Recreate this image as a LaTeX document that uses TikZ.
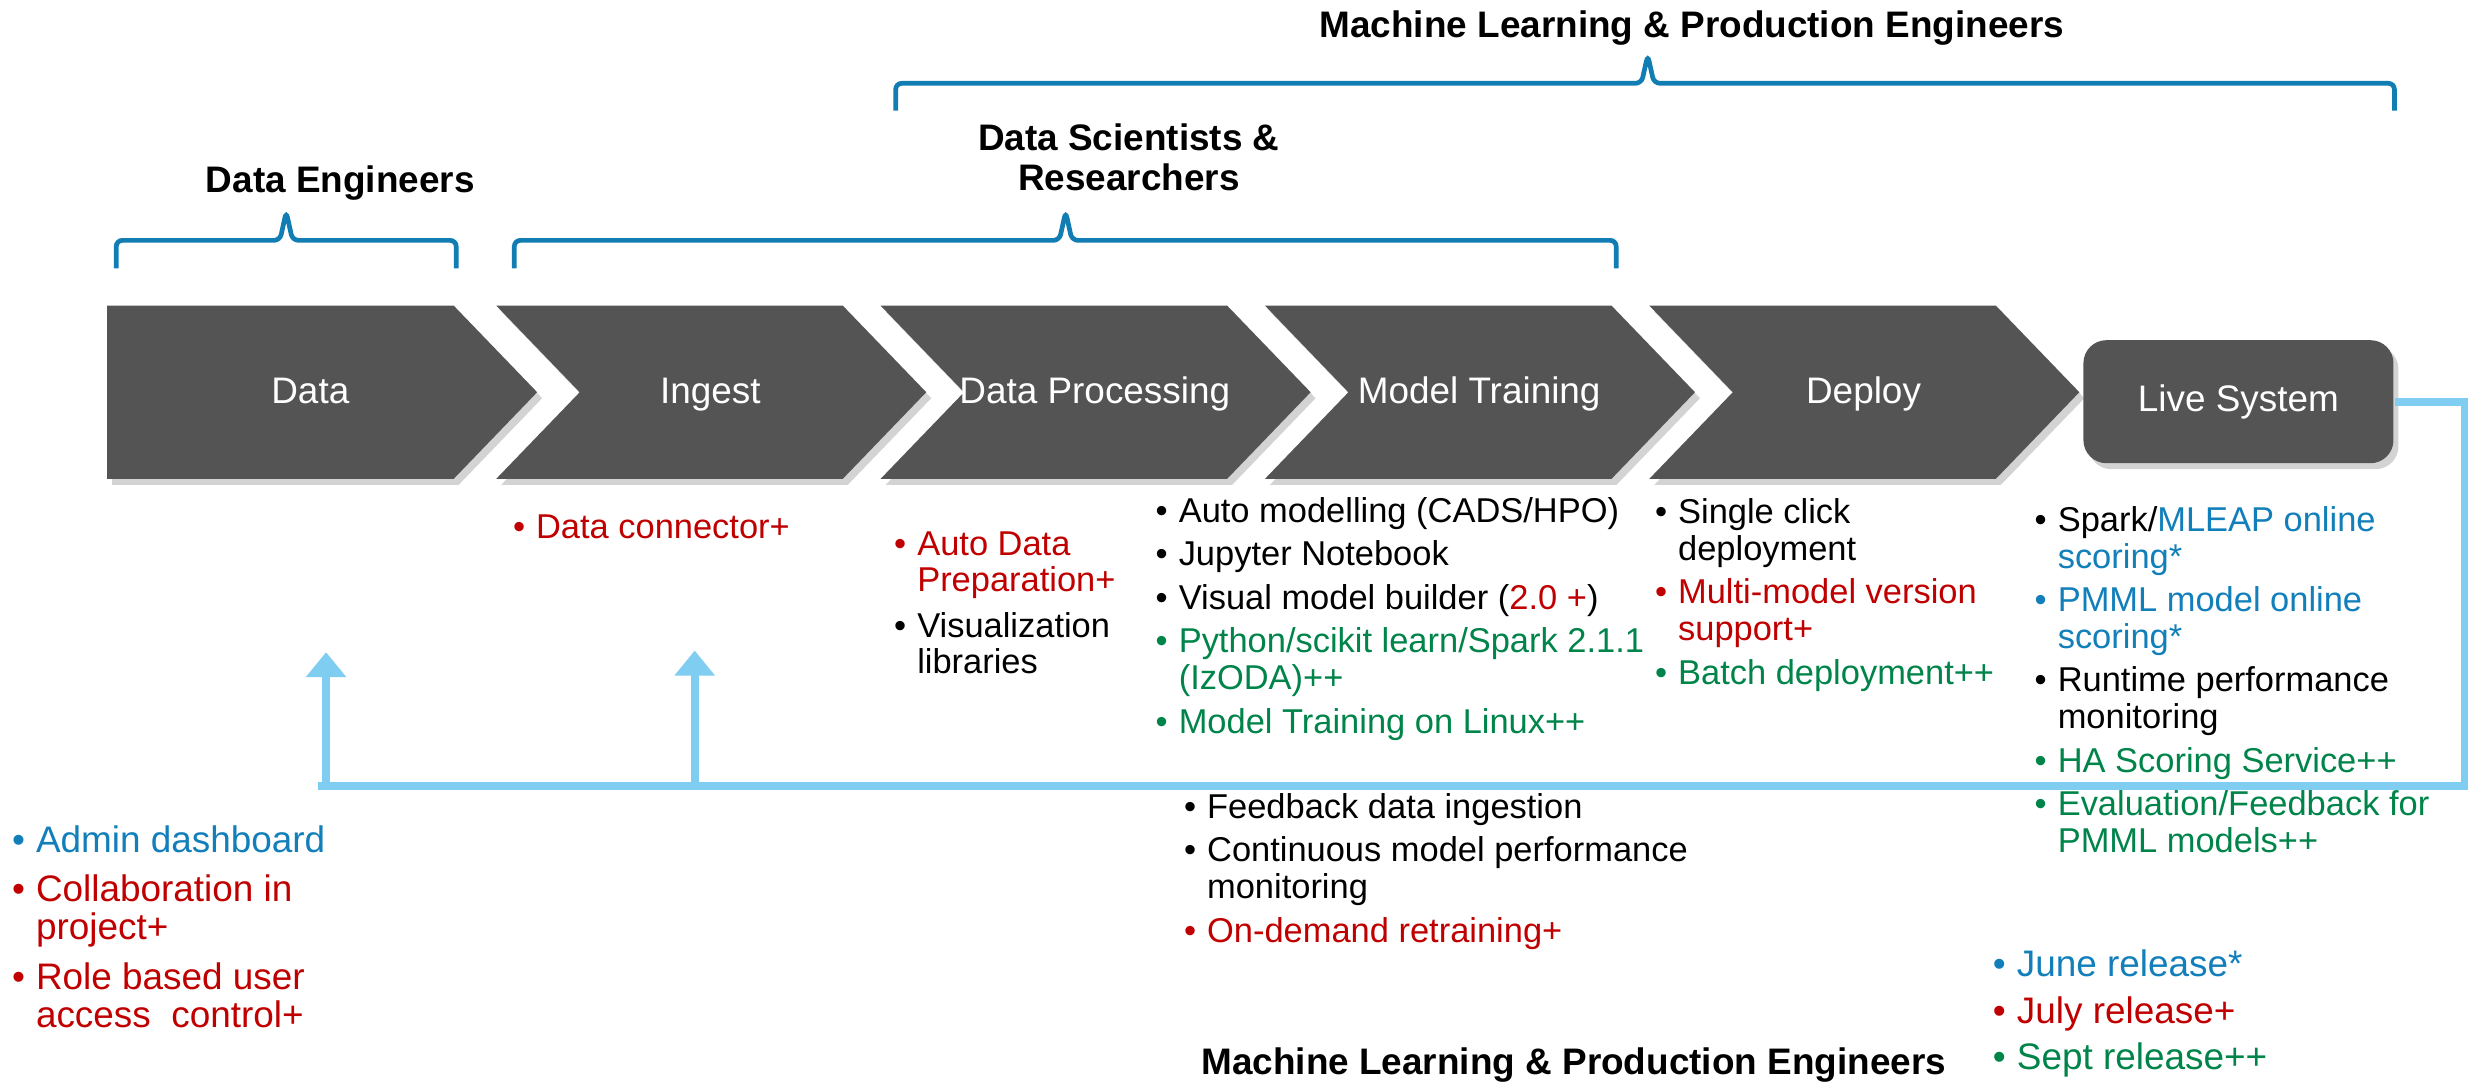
\documentclass[tikz,border=0pt]{standalone}
\usepackage{fontspec}
\setmainfont{Liberation Sans}
\usetikzlibrary{arrows.meta,shadows}

\definecolor{chevGrey}{HTML}{545454}
\definecolor{braceBlue}{HTML}{117DB3}
\definecolor{fbBlue}{HTML}{7FCDF1}
\definecolor{relBlue}{HTML}{127FBA}
\definecolor{relRed}{HTML}{C00000}
\definecolor{relGreen}{HTML}{00844A}

\begin{document}
\begin{tikzpicture}[x=0.1575mm, y=-0.1575mm, semithick]
    \tikzstyle{chevron}=[fill=chevGrey, drop shadow={opacity=0.35, shadow xshift=0.5mm, shadow yshift=-0.6mm}]
    \tikzstyle{stage}=[text=white, font=\fontsize{10.5}{12}\selectfont, anchor=base, inner sep=0pt]
    \tikzstyle{livebox}=[chevron, rounded corners=2.3mm, minimum width=31mm, minimum height=12.3mm, text=white, font=\fontsize{10.5}{12}\selectfont]
    \tikzstyle{brack}=[draw=braceBlue, line width=0.47mm, rounded corners=0.6mm]
    \tikzstyle{role}=[font=\fontsize{10.5}{11.3}\selectfont\bfseries, align=center, inner sep=0pt]
    \tikzstyle{lst}=[anchor=base west, inner sep=0pt, font=\fontsize{9.8}{10.4}\selectfont]
    \tikzstyle{fb}=[draw=fbBlue, line width=0.79mm]
    \tikzstyle{fbarrow}=[fb, -{Triangle[width=3.9mm, length=2.5mm]}]

    \useasboundingbox (0,0) rectangle (1568,687.5);

    % pipeline stages
    \fill[chevron] (68,194) -- (288,194) -- (341,249) -- (288,304) -- (68,304) -- cycle;
    \foreach \l in {315,559,803,1047}
        \fill[chevron] (\l,194) -- ++(220,0) -- ++(53,55) -- ++(-53,55) -- ++(-220,0) -- ++(53,-55) -- cycle;

    \node[stage]   (data)     at (197,256)  {Data};
    \node[stage]   (ingest)   at (451,256)  {Ingest};
    \node[stage]   (dataproc) at (695,256)  {Data Processing};
    \node[stage]   (training) at (939,256)  {Model Training};
    \node[stage]   (deploy)   at (1183,256) {Deploy};
    \node[livebox] (live)     at (1421,255) {Live System};

    % roles
    \foreach \l/\m/\r/\yt/\yb/\yp in {73.8/181.7/289.6/152.6/170.4/134.4, 326.5/676.5/1026/152.6/170.4/134.4, 568.6/1046/1520/52.9/70.3/35}
        \draw[brack] (\l,\yb) -- (\l,\yt) -- (\m-4,\yt) -- (\m,\yp) -- (\m+4,\yt) -- (\r,\yt) -- (\r,\yb);

    \node[role, anchor=base] (mlTop)   at (1074,24)  {Machine Learning \& Production Engineers};
    \node[role]              (dsTitle) at (716.6,100) {Data Scientists \&\\Researchers};
    \node[role, anchor=base] (deTitle) at (216,122)  {Data Engineers};
    \node[role, anchor=base] (mlBot)   at (999,682)  {Machine Learning \& Production Engineers};

    % features per stage
    \node[lst, text=relRed] (ingestList) at (325,342) {\begin{tabular}[t]{@{}l@{\hspace{1.1mm}}l@{}}
        \textbullet & Data connector+
    \end{tabular}};
    \node[lst] (dpList) at (567,352.5) {\begin{tabular}[t]{@{}l@{\hspace{1.1mm}}l@{}}
        \color{relRed}\textbullet & \color{relRed}Auto Data\\
        & \color{relRed}Preparation+\\[2.5pt]
        \textbullet & Visualization\\
        & libraries
    \end{tabular}};
    \node[lst] (mtList) at (733,331.5) {\begin{tabular}[t]{@{}l@{\hspace{1.1mm}}l@{}}
        \textbullet & Auto modelling (CADS/HPO)\\[2pt]
        \textbullet & Jupyter Notebook\\[2pt]
        \textbullet & Visual model builder (\textcolor{relRed}{2.0 +})\\[2pt]
        \color{relGreen}\textbullet & \color{relGreen}Python/scikit learn/Spark 2.1.1\\
        & \color{relGreen}(IzODA)++\\[2pt]
        \color{relGreen}\textbullet & \color{relGreen}Model Training on Linux++
    \end{tabular}};
    \node[lst] (depList) at (1050,332.5) {\begin{tabular}[t]{@{}l@{\hspace{1.1mm}}l@{}}
        \textbullet & Single click\\
        & deployment\\[2pt]
        \color{relRed}\textbullet & \color{relRed}Multi-model version\\
        & \color{relRed}support+\\[2pt]
        \color{relGreen}\textbullet & \color{relGreen}Batch deployment++
    \end{tabular}};
    \node[lst] (liveList) at (1291,337.5) {\begin{tabular}[t]{@{}l@{\hspace{1.1mm}}l@{}}
        \textbullet & Spark/\textcolor{relBlue}{MLEAP online}\\
        & \color{relBlue}scoring*\\[2pt]
        \color{relBlue}\textbullet & \color{relBlue}PMML model online\\
        & \color{relBlue}scoring*\\[2pt]
        \textbullet & Runtime performance\\
        & monitoring\\[2pt]
        \color{relGreen}\textbullet & \color{relGreen}HA Scoring Service++\\[2pt]
        \color{relGreen}\textbullet & \color{relGreen}Evaluation/Feedback for\\
        & \color{relGreen}PMML models++
    \end{tabular}};
    \node[lst] (fbList) at (751,519.5) {\begin{tabular}[t]{@{}l@{\hspace{1.1mm}}l@{}}
        \textbullet & Feedback data ingestion\\[2pt]
        \textbullet & Continuous model performance\\
        & monitoring\\[2pt]
        \color{relRed}\textbullet & \color{relRed}On-demand retraining+
    \end{tabular}};
    \node[lst, font=\fontsize{10.5}{10.8}\selectfont] (adminList) at (7,541) {\begin{tabular}[t]{@{}l@{\hspace{1.1mm}}l@{}}
        \color{relBlue}\textbullet & \color{relBlue}Admin dashboard\\[3.2pt]
        \color{relRed}\textbullet & \color{relRed}Collaboration in\\
        & \color{relRed}project+\\[3.2pt]
        \color{relRed}\textbullet & \color{relRed}Role based user\\
        & \color{relRed}access\ \ control+
    \end{tabular}};
    \node[lst, font=\fontsize{10.5}{13.2}\selectfont] (legend) at (1264.5,620) {\begin{tabular}[t]{@{}l@{\hspace{1.1mm}}l@{}}
        \color{relBlue}\textbullet & \color{relBlue}June release*\\
        \color{relRed}\textbullet & \color{relRed}July release+\\
        \color{relGreen}\textbullet & \color{relGreen}Sept release++
    \end{tabular}};

    % feedback loop
    \coordinate (fbR)  at (1564.5,499);
    \coordinate (fbL)  at (202,499);
    \coordinate (upA)  at (207,499);
    \coordinate (tipA) at (207,414);
    \coordinate (upB)  at (441,499);
    \coordinate (tipB) at (441,413);
    \draw[fb] (live.east) -| (fbR) -- (fbL);
    \draw[fbarrow] (upA) -- (tipA);
    \draw[fbarrow] (upB) -- (tipB);
\end{tikzpicture}
\end{document}
